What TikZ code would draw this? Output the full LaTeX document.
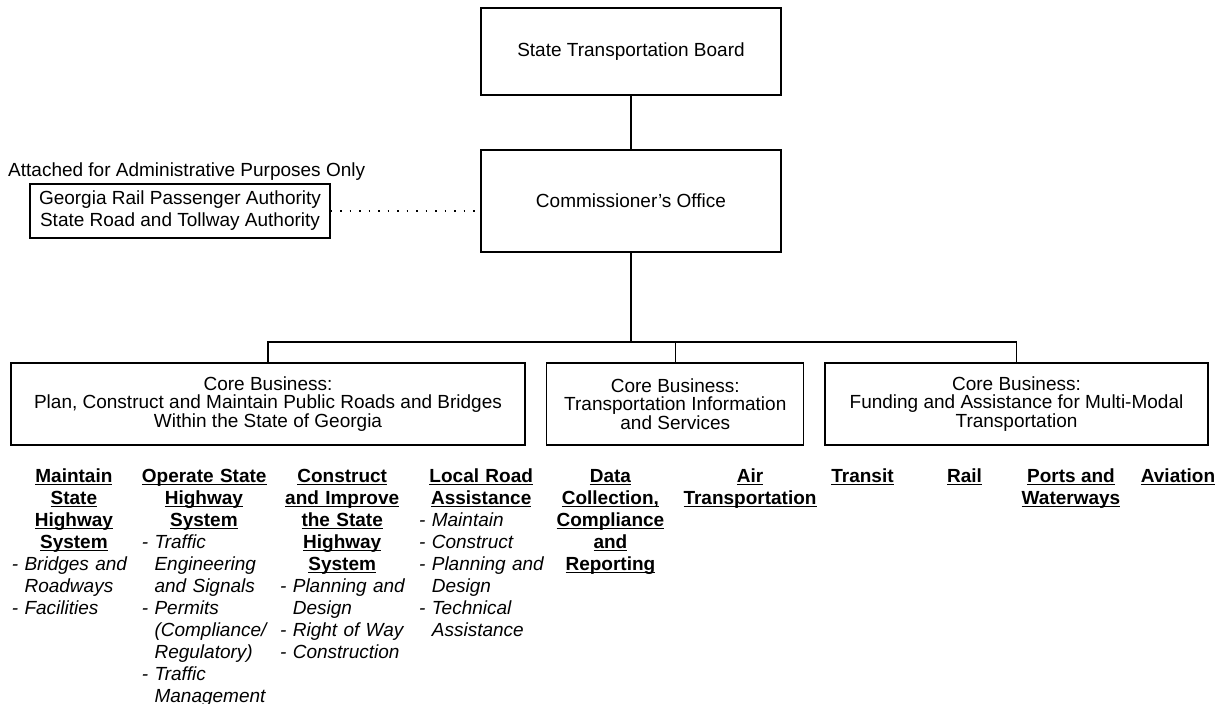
\documentclass[tikz,border=0pt]{standalone}
\usepackage{fontspec}
\setmainfont{Liberation Sans}
\usetikzlibrary{positioning}
\setlength{\parindent}{0pt}

% underline at a fixed depth, like a word processor does
\newcommand\uln[1]{\leavevmode\setbox0\hbox{#1}\rlap{\rule[-2.8pt]{\wd0}{1.5pt}}\box0}

\tikzset{
  orgbox/.style={draw, line width=1.3pt, minimum width=300pt, align=center, inner sep=2pt},
  corebox/.style={draw, line width=1.3pt, minimum height=82pt, align=center,
    font=\fontsize{19}{18.3}\selectfont},
  task/.style={anchor=north west, inner sep=0pt, text width=124pt, align=left},
  program/.style={anchor=north, inner sep=0pt, align=center, font=\fontsize{19}{22}\selectfont\bfseries},
  link/.style={line width=1.3pt},
  dots/.style={line width=1.4pt, dash pattern=on 1.4pt off 8.1pt}
}

\begin{document}
\begin{tikzpicture}[x=1pt,y=-1pt,font=\fontsize{19}{22}\selectfont]
\useasboundingbox (0,0) rectangle (1218,704);

\node[orgbox, minimum height=87pt] (board) at (631,51.5) {State Transportation Board};
\node[orgbox, minimum height=102pt] (office) at (631,201) {Commissioner{\char"27}s Office};
\node[draw, line width=1.3pt, minimum width=300pt, minimum height=54pt, align=center, inner sep=0pt] (auth) at (180,211)
  {Georgia Rail Passenger Authority\\State Road and Tollway Authority};
\node[anchor=west, inner sep=0pt] (attached) at (8,171.7) {Attached for Administrative Purposes Only};

\node[corebox, minimum width=514pt] (roads) at (268,404)
  {Core Business:\\Plan, Construct and Maintain Public Roads and Bridges\\Within the State of Georgia};
\node[corebox, minimum width=257pt] (info) at (675.3,404)
  {Core Business:\\Transportation Information\\and Services};
\node[corebox, minimum width=383pt] (funding) at (1016.5,404)
  {Core Business:\\Funding and Assistance for Multi-Modal\\Transportation};

\coordinate (bus) at (631,342);
\draw[link] (board) -- (office);
\draw[link] (office) -- (bus);
\draw[link] (roads.north) |- (bus) -| (funding.north);
\draw[link] (info.north) -- (info.north |- bus);
\draw[dots] (auth.east) -- (auth.east -| office.west);

% programs under the first core business
\node[task] (maintain) at (11.7,466.6)
  {{\centering\bfseries\leavevmode\strut\uln{Maintain}\\\uln{State}\\\uln{Highway}\\\uln{System}\par}
   \itshape \mbox{- Bridges and}\\\hphantom{- }Roadways\\- Facilities};
\node[task] (operate) at (141.7,466.6)
  {{\centering\bfseries\leavevmode\strut\uln{Operate State}\\\uln{Highway}\\\uln{System}\par}
   \itshape - Traffic\\\hphantom{- }Engineering\\\hphantom{- }\mbox{and Signals}\\- Permits\\\hphantom{- }(Compliance/\\\hphantom{- }Regulatory)\\- Traffic\\\hphantom{- }Management};
\node[task] (construct) at (280,466.6)
  {{\centering\bfseries\leavevmode\strut\uln{Construct}\\\uln{and Improve}\\\uln{the State}\\\uln{Highway}\\\uln{System}\par}
   \itshape \mbox{- Planning and}\\\hphantom{- }Design\\\mbox{- Right of Way}\\- Construction};
\node[task] (localroad) at (419,466.6)
  {{\centering\bfseries\leavevmode\strut\uln{Local Road}\\\uln{Assistance}\par}
   \itshape - Maintain\\- Construct\\\mbox{- Planning and}\\\hphantom{- }Design\\- Technical\\\hphantom{- }Assistance};

% programs under the other two
\node[program] (data) at (610.4,466.6)
  {\leavevmode\strut\uln{Data}\\\uln{Collection,}\\\uln{Compliance}\\\uln{and}\\\uln{Reporting}};
\node[program] (air) at (750,466.6) {\leavevmode\strut\uln{Air}\\\uln{Transportation}};
\node[program] (transit) at (862.5,466.6) {\leavevmode\strut\uln{Transit}};
\node[program] (rail) at (964.5,466.6) {\leavevmode\strut\uln{Rail}};
\node[program] (ports) at (1071,466.6) {\leavevmode\strut\uln{Ports and}\\\uln{Waterways}};
\node[program] (aviation) at (1178,466.6) {\leavevmode\strut\uln{Aviation}};
\end{tikzpicture}
\end{document}
